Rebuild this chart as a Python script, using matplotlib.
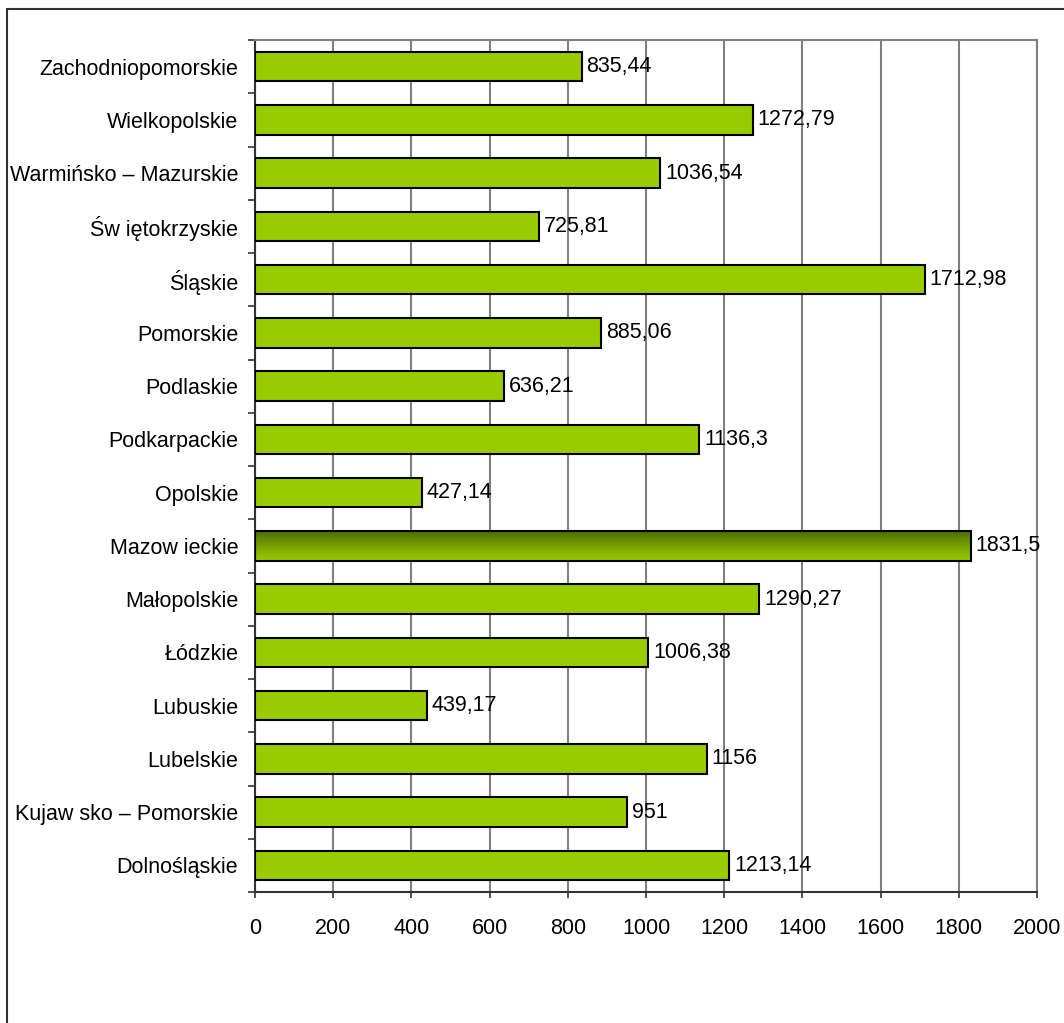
import numpy as np
import matplotlib.pyplot as plt
from matplotlib.patches import Rectangle

# dane (od dołu do góry)
wojewodztwa = ['Dolnośląskie', 'Kujaw sko – Pomorskie', 'Lubelskie', 'Lubuskie',
               'Łódzkie', 'Małopolskie', 'Mazow ieckie', 'Opolskie',
               'Podkarpackie', 'Podlaskie', 'Pomorskie', 'Śląskie',
               'Św iętokrzyskie', 'Warmińsko – Mazurskie', 'Wielkopolskie',
               'Zachodniopomorskie']
wartosci = [1213.14, 951, 1156, 439.17, 1006.38, 1290.27, 1831.5, 427.14,
            1136.3, 636.21, 885.06, 1712.98, 725.81, 1036.54, 1272.79, 835.44]
x_ticks = [0, 200, 400, 600, 800, 1000, 1200, 1400, 1600, 1800, 2000]

plt.rcParams['font.family'] = ['Liberation Sans', 'DejaVu Sans']
FS = 15.5

fig = plt.figure(figsize=(10.64, 10.23), dpi=100)
W, H = 1064, 1023

# ramka wykresu
fig.patches.append(Rectangle((7 / W, 0 - 0.01), 1.1, 1 - 9 / H + 0.01,
                             transform=fig.transFigure, fill=False,
                             edgecolor='#333333', linewidth=1.5))

ax = fig.add_axes([255 / W, 1 - 892 / H, (1037 - 255) / W, (892 - 40) / H])

y = np.arange(len(wojewodztwa))
kolor = '#99cc00'
bars = ax.barh(y, wartosci, height=0.55, color=kolor, edgecolor='black',
               linewidth=1.5, zorder=3)

# gradient dla Mazowieckiego (ciemny u góry, jasny na dole)
i_max = wojewodztwa.index('Mazow ieckie')
b = bars[i_max]
b.set_facecolor('none')
grad = np.linspace(0, 1, 100).reshape(-1, 1)
c_top = np.array([0x4a, 0x66, 0x00]) / 255
c_bot = np.array([0x99, 0xcc, 0x00]) / 255
img = c_top + (c_bot - c_top) * grad[:, :, None] ** 0.8
img = img.reshape(100, 1, 3)
x0, y0 = b.get_x(), b.get_y()
im = ax.imshow(img, extent=[x0, x0 + b.get_width(), y0, y0 + b.get_height()],
               origin='upper', aspect='auto', zorder=2.5,
               interpolation='bilinear')
im.set_clip_path(b)

for yi, v in zip(y, wartosci):
    ax.text(v + 12, yi, f"{v:g}".replace('.', ','), va='center', ha='left',
            fontsize=FS, zorder=4)

ax.set_xlim(0, 2000)
ax.set_ylim(-0.5, len(wojewodztwa) - 0.5)
ax.set_xticks(x_ticks)
ax.set_xticklabels([str(t) for t in x_ticks], fontsize=FS)
ax.set_yticks(y)
ax.set_yticklabels(wojewodztwa, fontsize=FS)
ax.set_yticks(np.arange(-0.5, len(wojewodztwa), 1), minor=True)
ax.tick_params(axis='y', which='major', length=0, pad=12)
ax.tick_params(axis='y', which='minor', length=5, width=1.2, color='#333333')
ax.tick_params(axis='x', length=4.5, width=1.2, color='#333333', pad=14)

ax.grid(axis='x', color='#808080', linewidth=1.5, zorder=0)
ax.set_axisbelow(True)
for s in ['top', 'right']:
    ax.spines[s].set_color('#808080')
    ax.spines[s].set_linewidth(1.5)
for s in ['left', 'bottom']:
    ax.spines[s].set_color('#333333')
    ax.spines[s].set_linewidth(1.5)

fig.savefig('out.png', dpi=100)
